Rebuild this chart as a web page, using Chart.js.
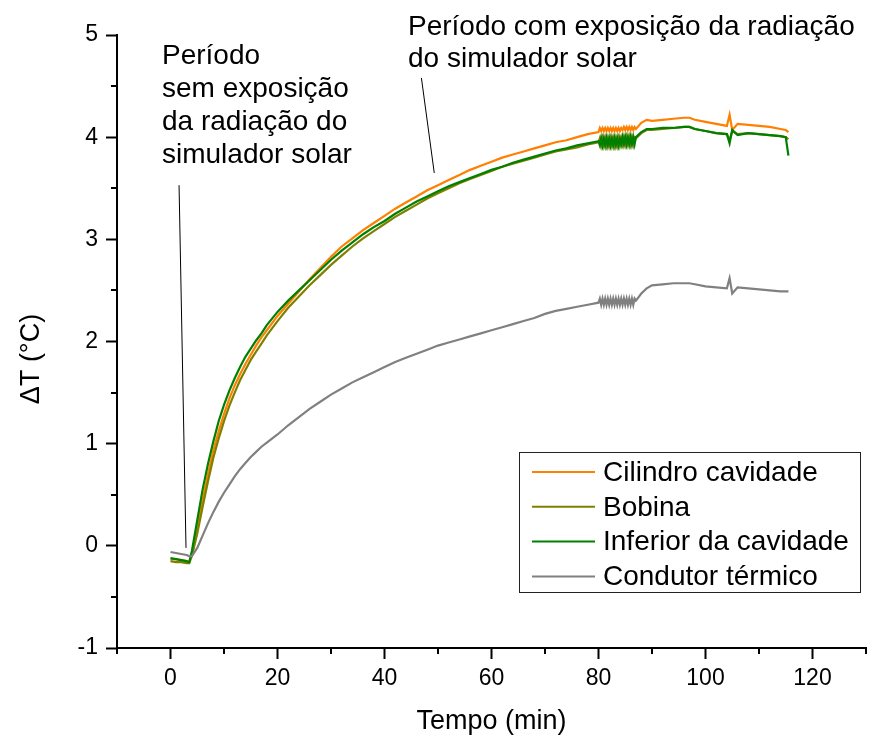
<!DOCTYPE html>
<html>
<head>
<meta charset="utf-8">
<script src="https://cdn.jsdelivr.net/npm/chart.js@4.4.0/dist/chart.umd.min.js"></script>
<style>
  html, body { margin: 0; padding: 0; background: #fff; }
  #wrap { width: 869px; height: 740px; }
</style>
</head>
<body>
<div id="wrap"><canvas id="c" width="869" height="740"></canvas></div>
<script>
// ---- Data (time in minutes, ΔT in °C) ----
const time = [0,1,2,3,3.5,4,
  5,6,7,8,9,10,11,12,13,14,15,16,17,18,
  20,22,24,26,28,30,32,34,36,38,40,42,44,46,48,50,52,54,56,58,60,62,64,66,68,70,72,74,76,78,80,
  80.25,80.5,80.75,81,81.25,81.5,81.75,82,82.25,82.5,82.75,83,83.25,83.5,83.75,84,
  84.25,84.5,84.75,85,85.25,85.5,85.75,86,86.25,86.5,86.75,87,
  88,89,90,
  92,94,96,97,98,
  100,102,104,104.5,105,106,
  108,110,112,114,115,115.5];

const cilindro = [-0.13,-0.13,-0.14,-0.15,-0.16,-0.08,
  0.18,0.45,0.70,0.93,1.12,1.29,1.44,1.57,1.68,1.78,1.87,1.96,2.04,2.11,
  2.25,2.37,2.49,2.61,2.72,2.83,2.93,3.01,3.09,3.16,3.23,3.30,3.36,3.42,3.48,3.53,3.58,3.63,3.68,3.72,3.76,3.80,3.83,3.86,3.89,3.92,3.95,3.97,4.00,4.03,4.05,
  4.09,4.06,4.09,4.06,4.09,4.06,4.09,4.06,4.09,4.06,4.09,4.06,4.09,4.06,4.09,4.06,
  4.09,4.07,4.10,4.07,4.10,4.07,4.10,4.07,4.10,4.07,4.10,4.08,
  4.14,4.17,4.16,
  4.17,4.18,4.19,4.19,4.17,
  4.15,4.13,4.11,4.22,4.07,4.13,
  4.12,4.11,4.10,4.08,4.07,4.05];

const bobina = [-0.15,-0.16,-0.16,-0.17,-0.17,-0.10,
  0.12,0.38,0.63,0.86,1.05,1.22,1.37,1.50,1.62,1.72,1.82,1.90,1.98,2.06,
  2.20,2.33,2.44,2.55,2.65,2.75,2.84,2.93,3.01,3.08,3.15,3.22,3.28,3.34,3.40,3.45,3.50,3.55,3.59,3.63,3.67,3.71,3.74,3.77,3.80,3.83,3.86,3.88,3.90,3.93,3.95,
  3.99,3.92,3.99,3.92,3.99,3.92,3.99,3.92,3.99,3.92,3.99,3.92,3.99,3.92,3.99,3.92,
  3.99,3.93,4.00,3.93,4.00,3.93,4.00,3.93,4.00,3.93,4.00,3.99,
  4.04,4.07,4.07,
  4.08,4.09,4.10,4.10,4.08,
  4.06,4.04,4.03,3.97,4.06,4.03,
  4.04,4.03,4.02,4.01,4.00,3.98];

const inferior = [-0.12,-0.13,-0.14,-0.15,-0.16,-0.05,
  0.25,0.55,0.80,1.02,1.22,1.38,1.52,1.64,1.75,1.85,1.93,2.01,2.08,2.16,
  2.29,2.40,2.50,2.60,2.70,2.80,2.89,2.97,3.05,3.12,3.18,3.25,3.31,3.37,3.42,3.47,3.52,3.56,3.60,3.64,3.68,3.71,3.75,3.78,3.81,3.84,3.87,3.89,3.92,3.94,3.96,
  3.92,3.99,3.92,3.99,3.92,3.99,3.92,3.99,3.92,3.99,3.92,3.99,3.92,3.99,3.92,3.99,
  3.93,4.00,3.93,4.00,3.93,4.00,3.93,4.00,3.93,4.00,3.93,4.00,
  4.05,4.08,4.08,
  4.09,4.09,4.10,4.10,4.08,
  4.06,4.04,4.03,3.94,4.07,4.02,
  4.04,4.03,4.02,4.01,4.00,3.82];

const condutor = [-0.06,-0.07,-0.08,-0.09,-0.10,-0.10,
  -0.02,0.10,0.22,0.33,0.43,0.52,0.60,0.68,0.75,0.81,0.87,0.92,0.97,1.01,
  1.09,1.18,1.26,1.34,1.41,1.48,1.54,1.60,1.65,1.70,1.75,1.80,1.84,1.88,1.92,1.96,1.99,2.02,2.05,2.08,2.11,2.14,2.17,2.20,2.23,2.27,2.30,2.32,2.34,2.36,2.38,
  2.42,2.36,2.42,2.36,2.42,2.36,2.42,2.36,2.42,2.36,2.42,2.36,2.42,2.36,2.42,2.36,
  2.42,2.36,2.42,2.36,2.42,2.36,2.42,2.36,2.42,2.36,2.42,2.40,
  2.47,2.52,2.55,
  2.56,2.57,2.57,2.57,2.56,
  2.54,2.53,2.52,2.62,2.47,2.53,
  2.52,2.51,2.50,2.49,2.49,2.49];

const seriesNames = ['Cilindro cavidade', 'Bobina', 'Inferior da cavidade', 'Condutor térmico'];
const xTicks = [0, 20, 40, 60, 80, 100, 120];
const yTicks = [-1, 0, 1, 2, 3, 4, 5];
const xTitle = 'Tempo (min)';
const yTitle = 'ΔT (°C)';
const note1 = ['Período', 'sem exposição', 'da radiação do', 'simulador solar'];
const note2 = ['Período com exposição da radiação', 'do simulador solar'];

// ---- Styles ----
const colors = ['#FF8000', '#808000', '#008000', '#808080'];
const FONT = '"Liberation Sans", Arial, sans-serif';

const seriesValues = [cilindro, bobina, inferior, condutor];
const datasets = seriesValues.map((vals, i) => ({
  label: seriesNames[i],
  data: time.map((t, k) => ({ x: t, y: vals[k] })),
  borderColor: colors[i],
  backgroundColor: colors[i],
  borderWidth: 2.2,
  pointRadius: 0,
  tension: 0,
  fill: false,
  order: 4 - i
}));

const deco = {
  id: 'deco',
  afterDraw(chart) {
    const { ctx } = chart;
    const xs = chart.scales.x, ys = chart.scales.y;
    const area = chart.chartArea;
    ctx.save();
    // minor ticks
    ctx.strokeStyle = '#000';
    ctx.lineWidth = 2;
    const xStep = xTicks[1] - xTicks[0];
    for (let v = xTicks[0] - xStep / 2; v <= xs.max + 1e-9; v += xStep) {
      if (v < xs.min - 1e-9) continue;
      const px = Math.round(xs.getPixelForValue(v));
      ctx.beginPath(); ctx.moveTo(px, area.bottom); ctx.lineTo(px, area.bottom + 6); ctx.stroke();
    }
    const yStep = yTicks[1] - yTicks[0];
    for (let v = yTicks[0] + yStep / 2; v < ys.max; v += yStep) {
      const py = Math.round(ys.getPixelForValue(v));
      ctx.beginPath(); ctx.moveTo(area.left, py); ctx.lineTo(area.left - 6, py); ctx.stroke();
    }

    // leader lines
    ctx.strokeStyle = '#000';
    ctx.lineWidth = 1;
    ctx.beginPath();
    ctx.moveTo(xs.getPixelForValue(1.6), ys.getPixelForValue(3.53));
    ctx.lineTo(xs.getPixelForValue(2.9), ys.getPixelForValue(-0.02));
    ctx.stroke();
    ctx.beginPath();
    ctx.moveTo(xs.getPixelForValue(46.9), ys.getPixelForValue(4.58));
    ctx.lineTo(xs.getPixelForValue(49.3), ys.getPixelForValue(3.65));
    ctx.stroke();

    // annotations
    ctx.fillStyle = '#000';
    ctx.font = '28px ' + FONT;
    ctx.textAlign = 'left';
    ctx.textBaseline = 'alphabetic';
    note1.forEach((s, i) => ctx.fillText(s, 162, 64 + i * 33));
    note2.forEach((s, i) => ctx.fillText(s, 408, 35 + i * 32));

    // axis titles
    ctx.font = '27px ' + FONT;
    ctx.textAlign = 'center';
    ctx.fillText(xTitle, (area.left + area.right) / 2, 729);
    ctx.save();
    ctx.translate(39, 359);
    ctx.rotate(-Math.PI / 2);
    ctx.fillText(yTitle, 0, 0);
    ctx.restore();

    // legend
    const L = 519.5, T = 452.5, W = 341, H = 140;
    ctx.fillStyle = '#fff';
    ctx.fillRect(L, T, W, H);
    ctx.strokeStyle = '#222';
    ctx.lineWidth = 1;
    ctx.strokeRect(L, T, W, H);
    ctx.font = '28px ' + FONT;
    ctx.textAlign = 'left';
    ctx.textBaseline = 'middle';
    chart.data.datasets.forEach((ds, i) => {
      const ry = 472 + i * 34.8;
      ctx.strokeStyle = ds.borderColor;
      ctx.lineWidth = 2;
      ctx.beginPath(); ctx.moveTo(532, ry); ctx.lineTo(595, ry); ctx.stroke();
      ctx.fillStyle = '#000';
      ctx.fillText(ds.label, 603, ry + 1);
    });
    ctx.restore();
  }
};

new Chart(document.getElementById('c'), {
  type: 'line',
  data: { datasets },
  options: {
    responsive: false,
    animation: false,
    devicePixelRatio: 1,
    layout: { padding: { left: 0, right: 3, top: 35, bottom: 0 } },
    plugins: { legend: { display: false }, tooltip: { enabled: false } },
    scales: {
      x: {
        type: 'linear',
        min: -10, max: 130,
        afterBuildTicks: s => { s.ticks = xTicks.map(v => ({ value: v })); },
        afterFit: s => { s.height = 92; },
        ticks: { color: '#000', font: { family: FONT, size: 23 }, padding: 6, maxRotation: 0, autoSkip: false },
        grid: { drawOnChartArea: false, tickLength: 11, tickColor: '#000', tickWidth: 2 },
        border: { color: '#000', width: 2 }
      },
      y: {
        type: 'linear',
        min: -1, max: 5,
        afterBuildTicks: s => { s.ticks = yTicks.map(v => ({ value: v })); },
        afterFit: s => { s.width = 117; },
        ticks: { color: '#000', font: { family: FONT, size: 23 }, padding: 8, autoSkip: false },
        grid: { drawOnChartArea: false, tickLength: 11, tickColor: '#000', tickWidth: 2 },
        border: { color: '#000', width: 2 }
      }
    }
  },
  plugins: [deco]
});
</script>
</body>
</html>
